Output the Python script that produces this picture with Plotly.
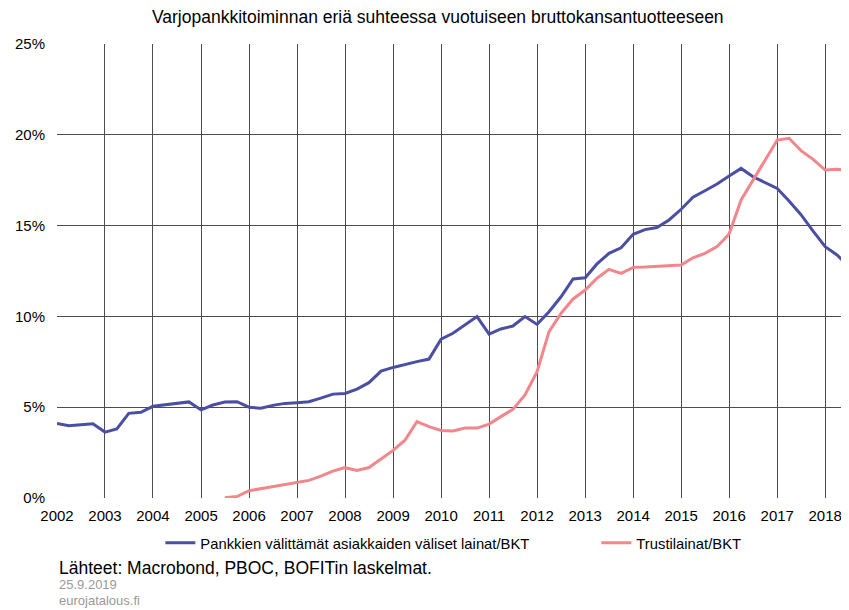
import pandas as pd
import plotly.graph_objects as go

# Quarterly observations, 2002 Q1 .. 2018 Q3 start
start_date = "2002-01-01"
n_quarters = 67
quarters = pd.date_range(start_date, periods=n_quarters, freq="QS")

entrusted_loans = [
    4.11, 3.98, 4.03, 4.09,
    3.63, 3.80, 4.66, 4.72,
    5.05, 5.14, 5.19, 5.29,
    4.85, 5.12, 5.29, 5.30,
    5.00, 4.94, 5.10, 5.21,
    5.25, 5.30, 5.50, 5.72,
    5.76, 6.00, 6.35, 6.99,
    7.19, 7.36, 7.51, 7.65,
    8.75, 9.07, 9.53, 9.99,
    9.03, 9.31, 9.47, 9.99,
    9.56, 10.26, 11.08, 12.06,
    12.13, 12.89, 13.47, 13.78,
    14.52, 14.78, 14.89, 15.31,
    15.90, 16.56, 16.92, 17.29,
    17.73, 18.15, 17.69, 17.36,
    17.05, 16.35, 15.60, 14.70,
    13.84, 13.38, 12.74,
]

trust_loans = [
    None, None, None, None,
    None, None, None, None,
    None, None, None, None,
    None, None, 0.02, 0.08,
    0.40, 0.52, 0.62, 0.75,
    0.88, 0.97, 1.20, 1.48,
    1.67, 1.52, 1.68, 2.15,
    2.62, 3.18, 4.20, 3.93,
    3.72, 3.69, 3.85, 3.85,
    4.07, 4.48, 4.88, 5.67,
    6.96, 9.16, 10.17, 10.96,
    11.45, 12.10, 12.59, 12.37,
    12.70, 12.72, 12.76, 12.80,
    12.83, 13.23, 13.47, 13.84,
    14.54, 16.41, 17.51, 18.61,
    19.71, 19.81, 19.13, 18.65,
    18.06, 18.10, 18.02,
]

series_names = [
    "Pankkien välittämät asiakkaiden väliset lainat/BKT",
    "Trustilainat/BKT",
]
title_text = "Varjopankkitoiminnan eriä suhteessa vuotuiseen bruttokansantuotteeseen"
source_text = "Lähteet: Macrobond, PBOC, BOFITin laskelmat."
date_text = "25.9.2019"
site_text = "eurojatalous.fi"
y_ticks = [0, 5, 10, 15, 20, 25]
y_labels = [f"{v}%" for v in y_ticks]

FONT = "Liberation Sans, Arial, sans-serif"

fig = go.Figure()
fig.add_trace(go.Scatter(
    x=quarters, y=entrusted_loans, mode="lines", name=series_names[0],
    line=dict(color="#4a4fa3", width=3), legend="legend",
))
fig.add_trace(go.Scatter(
    x=quarters, y=trust_loans, mode="lines", name=series_names[1],
    line=dict(color="#f2868a", width=3), legend="legend2",
))

legend_common = dict(orientation="h", xanchor="left", y=-0.063, yanchor="top",
                     font=dict(family=FONT, size=14.8, color="#000000"),
                     bgcolor="rgba(0,0,0,0)", itemwidth=30)

fig.update_layout(
    width=841, height=602,
    margin=dict(l=49, r=0, t=36, b=112),
    paper_bgcolor="white", plot_bgcolor="white",
    font=dict(family=FONT, color="#000000", size=15),
    title=dict(text=title_text, x=0.511, xanchor="center", y=0.985, yanchor="middle",
               font=dict(family=FONT, size=17.5, color="#000000")),
    showlegend=True,
    legend=dict(x=0.1305, **legend_common),
    legend2=dict(x=0.681, **legend_common),
    xaxis=dict(
        type="date", range=["2002-01-01", "2018-07-01"],
        dtick="M12", tick0="2002-01-01", tickformat="%Y",
        showgrid=True, gridcolor="#4d4d4d", gridwidth=1,
        showline=False, zeroline=False, ticks="", ticklabelstandoff=7,
        tickfont=dict(family=FONT, size=15, color="#000000"),
    ),
    yaxis=dict(
        range=[0, 25], tickvals=y_ticks, ticktext=y_labels,
        showgrid=True, gridcolor="#4d4d4d", gridwidth=1,
        showline=False, zeroline=False, ticks="", ticklabelstandoff=11,
        tickfont=dict(family=FONT, size=15, color="#000000"),
    ),
    annotations=[
        dict(text=source_text, xref="paper", yref="paper", x=0.0, y=-0.154,
             xanchor="left", yanchor="middle", showarrow=False,
             font=dict(family=FONT, size=17.5, color="#000000")),
        dict(text=date_text, xref="paper", yref="paper", x=0.0, y=-0.191,
             xanchor="left", yanchor="middle", showarrow=False,
             font=dict(family=FONT, size=13, color="#999999")),
        dict(text=site_text, xref="paper", yref="paper", x=0.0, y=-0.226,
             xanchor="left", yanchor="middle", showarrow=False,
             font=dict(family=FONT, size=13, color="#999999")),
    ],
)

fig.write_html("out.html")
